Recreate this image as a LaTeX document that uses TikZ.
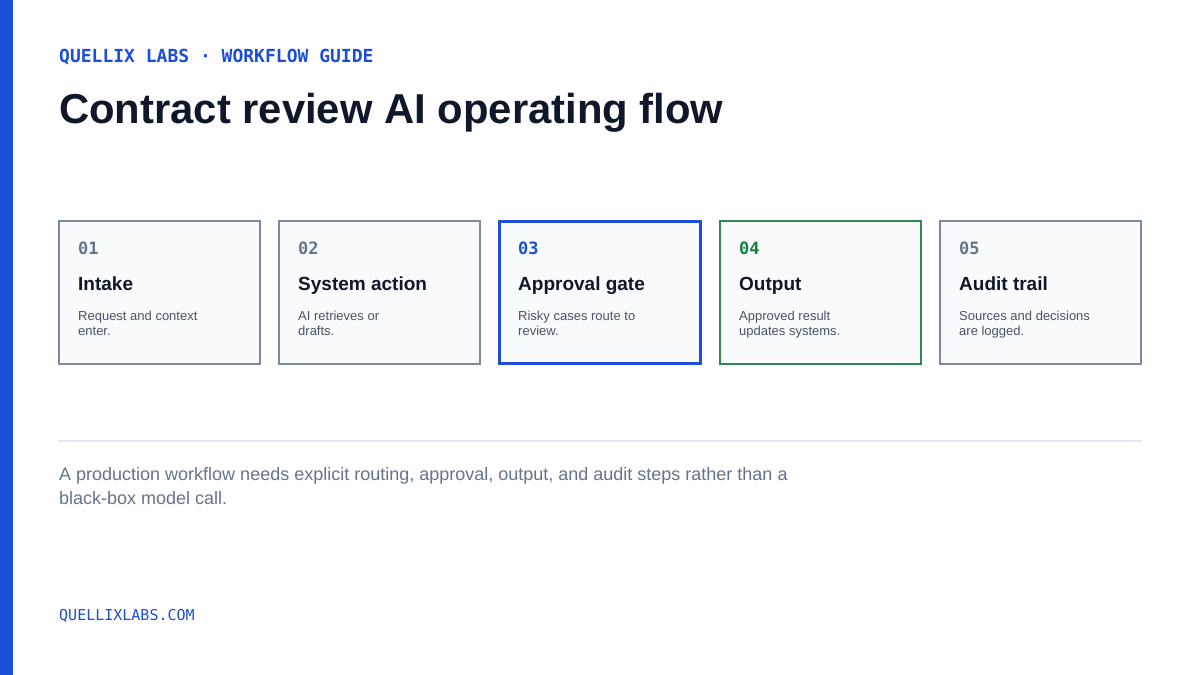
\documentclass[tikz,border=0pt]{standalone}
\usepackage{fontspec}
\setmainfont{Liberation Sans}
\setmonofont{DejaVu Sans Mono}
\usetikzlibrary{positioning}
\definecolor{brandblue}{HTML}{1D4ED8}
\definecolor{okgreen}{HTML}{15803D}
\definecolor{okedge}{HTML}{2E8A4E}
\definecolor{ink}{HTML}{0F172A}
\definecolor{slate}{HTML}{64748B}
\definecolor{edge}{HTML}{7D899C}
\definecolor{muted}{HTML}{475569}
\definecolor{cardfill}{HTML}{F8FAFC}
\definecolor{ruleline}{HTML}{E2E8F0}
\tikzset{
  card/.style={draw=edge, line width=2pt, fill=cardfill, anchor=north west,
    minimum width=201pt, minimum height=143pt, inner sep=0pt},
  stepnum/.style={anchor=base west, inner sep=0pt, text=slate,
    font=\ttfamily\bfseries\fontsize{17}{17}\selectfont},
  steptitle/.style={anchor=base west, inner sep=0pt, text=ink,
    font=\bfseries\fontsize{19}{19}\selectfont},
  stepnote/.style={anchor=base west, inner sep=0pt, align=left, text=muted,
    font=\fontsize{13}{14.5}\selectfont},
}
\begin{document}
\begin{tikzpicture}[x=1pt,y=-1pt]
  \useasboundingbox (0,0) rectangle (1200,675);
  \fill[white] (0,0) rectangle (1200,675);
  \fill[brandblue] (0,0) rectangle (13,675);

  % header
  \node[anchor=base west, inner sep=0pt, text=brandblue,
    font=\ttfamily\bfseries\fontsize{18}{18}\selectfont] (kicker) at (59,62)
    {QUELLIX LABS · WORKFLOW GUIDE};
  \node[anchor=base west, inner sep=0pt, text=ink,
    font=\bfseries\fontsize{41.8}{42}\selectfont] (title) at (59,123)
    {Contract review AI operating flow};

  % steps
  \node[card] (c1) at (58,220) {};
  \node[card] (c2) at (278,220) {};
  \node[card, draw=brandblue, line width=3pt, minimum width=201pt,
    minimum height=142pt] (c3) at (498,220) {};
  \node[card, draw=okedge] (c4) at (719,220) {};
  \node[card] (c5) at (939,220) {};

  \node[stepnum] (n1) at ([xshift=20pt,yshift=-34pt]c1.north west) {01};
  \node[steptitle] (t1) at ([xshift=20pt,yshift=-70pt]c1.north west) {Intake};
  \node[stepnote] (d1) at ([xshift=20pt,yshift=-115pt]c1.north west) {Request and context\\enter.};

  \node[stepnum] (n2) at ([xshift=20pt,yshift=-34pt]c2.north west) {02};
  \node[steptitle] (t2) at ([xshift=20pt,yshift=-70pt]c2.north west) {System action};
  \node[stepnote] (d2) at ([xshift=20pt,yshift=-115pt]c2.north west) {AI retrieves or\\drafts.};

  \node[stepnum, text=brandblue] (n3) at ([xshift=20pt,yshift=-34pt]c3.north west) {03};
  \node[steptitle] (t3) at ([xshift=20pt,yshift=-70pt]c3.north west) {Approval gate};
  \node[stepnote] (d3) at ([xshift=20pt,yshift=-115pt]c3.north west) {Risky cases route to\\review.};

  \node[stepnum, text=okgreen] (n4) at ([xshift=20pt,yshift=-34pt]c4.north west) {04};
  \node[steptitle] (t4) at ([xshift=20pt,yshift=-70pt]c4.north west) {Output};
  \node[stepnote] (d4) at ([xshift=20pt,yshift=-115pt]c4.north west) {Approved result\\updates systems.};

  \node[stepnum] (n5) at ([xshift=20pt,yshift=-34pt]c5.north west) {05};
  \node[steptitle] (t5) at ([xshift=20pt,yshift=-70pt]c5.north west) {Audit trail};
  \node[stepnote] (d5) at ([xshift=20pt,yshift=-115pt]c5.north west) {Sources and decisions\\are logged.};

  % summary
  \coordinate (ruleL) at (58,441);
  \coordinate (ruleR) at (1142,441);
  \draw[ruleline, line width=2pt] (ruleL) -- (ruleR);
  \node[anchor=base west, inner sep=0pt, align=left, text=slate,
    font=\fontsize{18}{24}\selectfont] (summary) at (59,504)
    {A production workflow needs explicit routing, approval, output, and audit steps rather than a\\black-box model call.};

  % footer
  \node[anchor=base west, inner sep=0pt, text=brandblue,
    font=\ttfamily\fontsize{15}{15}\selectfont] (site) at (59,620) {QUELLIXLABS.COM};
\end{tikzpicture}
\end{document}
